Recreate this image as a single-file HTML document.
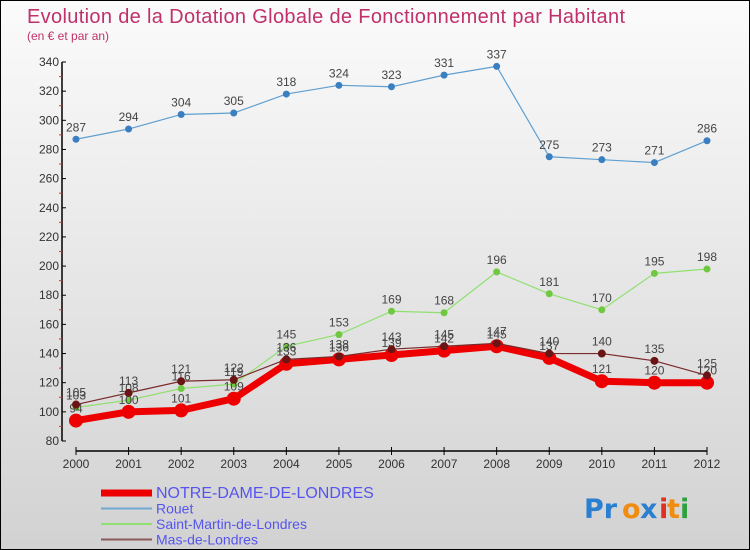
<!DOCTYPE html>
<html><head><meta charset="utf-8">
<style>
body{margin:0;}
#wrap{width:748px;height:548px;border:1px solid #000;background:linear-gradient(#fbfbfb,#d2d2d2);position:relative;overflow:hidden;font-family:"Liberation Sans","DejaVu Sans",sans-serif;}
svg{position:absolute;left:0;top:0;}
</style></head>
<body>
<div id="wrap">
<svg id="chart" width="750" height="550">
<text x="26" y="22" font-size="20" fill="#c0306a" textLength="598">Evolution de la Dotation Globale de Fonctionnement par Habitant</text>
<text x="26" y="39" font-size="12" fill="#c0306a">(en € et par an)</text>
<g id="axes"></g>
<g id="series"></g>
<g id="legend"></g>
<g font-size="27" font-weight="bold" font-family="DejaVu Sans, sans-serif">
<text x="583" y="517" fill="#2a7fd0">Pr</text><text x="621" y="517" fill="#f08c10">o</text><text x="639" y="517" fill="#2a7fd0">x</text><text x="658" y="517" fill="#e03020">i</text><text x="666" y="517" fill="#f08c10">t</text><text x="679" y="517" fill="#30a040">i</text>
</g>
</svg>
</div>
<script>
const years=["2000","2001","2002","2003","2004","2005","2006","2007","2008","2009","2010","2011","2012"];
const notreDame=[94,100,101,109,133,136,139,142,145,137,121,120,120];
const rouet=[287,294,304,305,318,324,323,331,337,275,273,271,286];
const saintMartin=[103,108,116,119,145,153,169,168,196,181,170,195,198];
const masDeLondres=[105,113,121,122,136,138,143,145,147,140,140,135,125];
const yTicks=[80,100,120,140,160,180,200,220,240,260,280,300,320,340];
const NS="http://www.w3.org/2000/svg";
const x0=75,x1=706,yMin=80,yMax=340,yBot=440,yTop=61,axisX=61;
const xs=i=>x0+i*(x1-x0)/(years.length-1);
const ys=v=>yBot-(v-yMin)*(yBot-yTop)/(yMax-yMin);
function mk(t,a,p){const e=document.createElementNS(NS,t);for(const k in a)e.setAttribute(k,a[k]);p.appendChild(e);return e;}
const axes=document.getElementById('axes');
const ya=mk('line',{x1:axisX,y1:ys(yMax),x2:axisX,y2:ys(yMin),stroke:'#000','stroke-width':1.5},axes);


yTicks.forEach((v,i)=>{
 mk('line',{x1:axisX,y1:ys(v),x2:axisX+4,y2:ys(v),stroke:'#000'},axes);
 if(i<yTicks.length-1)mk('line',{x1:axisX-3,y1:ys(v+10),x2:axisX,y2:ys(v+10),stroke:'#e03030'},axes);
 const t=mk('text',{x:axisX-3,y:ys(v)+4,'text-anchor':'end','font-size':12,fill:'#333'},axes);
 t.textContent=v;
 
 
});
const xa=mk('line',{x1:x0,y1:450,x2:x1,y2:450,stroke:'#000','stroke-width':1.5},axes);


years.forEach((y,i)=>{
 mk('line',{x1:xs(i),y1:446,x2:xs(i),y2:454,stroke:'#000'},axes);
 const t=mk('text',{x:xs(i),y:467,'text-anchor':'middle','font-size':12,fill:'#333'},axes);
 t.textContent=y;
 
 
});
const ser=document.getElementById('series');
function draw(vals,name,color,dot,w,r){
 const g=mk('g',{},ser);
 
 
 mk('polyline',{points:vals.map((v,i)=>xs(i)+','+ys(v)).join(' '),fill:'none',stroke:color,'stroke-width':w,'stroke-linejoin':'round'},g);
 vals.forEach((v,i)=>{
  const c=mk('circle',{cx:xs(i),cy:ys(v),r:r,fill:dot},g);
  
  
  const t=mk('text',{x:xs(i),y:ys(v)-8,'text-anchor':'middle','font-size':12,fill:'#444'},g);
  t.textContent=v;
  
  
 });
}
draw(rouet,'rouet-series','#5f9fd0','#3a80c0',1.2,3.5);
draw(saintMartin,'saint-martin-series','#90e070','#70c840',1.2,3.5);
draw(notreDame,'notre-dame-series','#ee0000','#ee0000',7,7);
draw(masDeLondres,'mas-de-londres-series','#7a2a2a','#6a1515',1.2,4);
const leg=document.getElementById('legend');
const items=[["NOTRE-DAME-DE-LONDRES","#ee0000",7,16],["Rouet","#6fa8d0",2,14],["Saint-Martin-de-Londres","#90e070",2,14],["Mas-de-Londres","#8a5a5a",2,14]];
items.forEach((it,i)=>{
 const y=492+i*15.5;
 const g=mk('g',{},leg);
 
 
 mk('line',{x1:100,y1:y,x2:151,y2:y,stroke:it[1],'stroke-width':it[2]},g);
 const t=mk('text',{x:155,y:y+5,'font-size':it[3],fill:'#5555ee'},g);
 t.textContent=it[0];
});
</script>
</body></html>
